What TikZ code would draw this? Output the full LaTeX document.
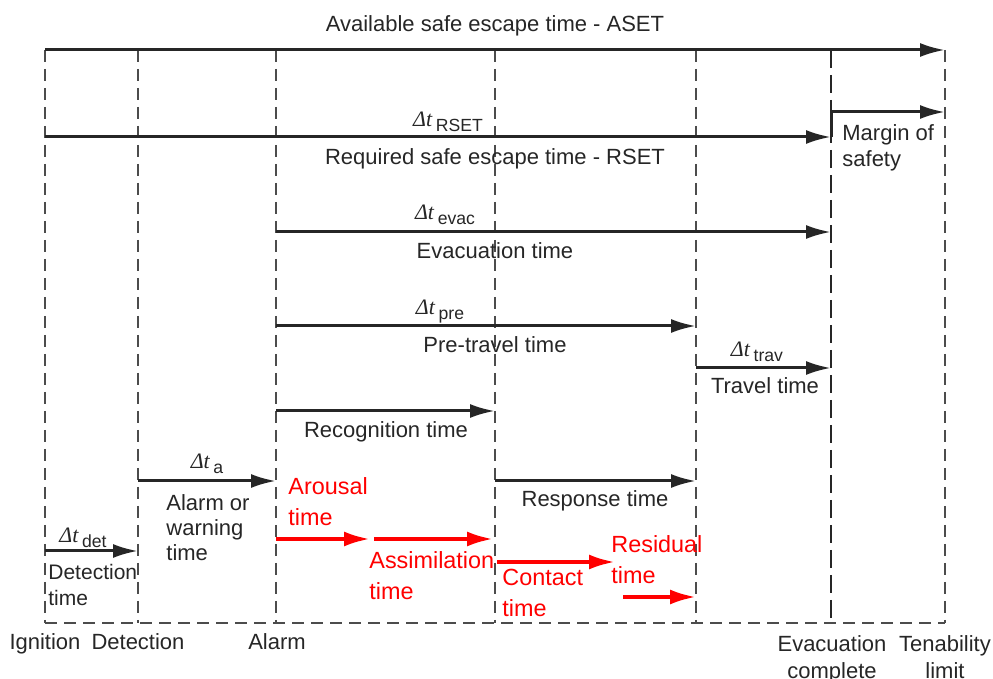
\documentclass[tikz,border=0pt]{standalone}
\usepackage{fontspec}
\setmainfont{Liberation Sans}
\newfontfamily\deltafont{Liberation Serif}
\usetikzlibrary{arrows.meta}
\newcommand{\dtlab}[1]{{\deltafont\itshape Δt}\,\raisebox{-0.35ex}{\fontsize{8.8}{10}\selectfont #1}}
\begin{document}
\begin{tikzpicture}[x=0.5pt,y=-0.5pt,font=\fontsize{11}{12.5}\selectfont,
 txt/.style={text=black!85,inner sep=0pt},
 redtxt/.style={text=red,inner sep=0pt,align=left,font=\fontsize{11.7}{15.5}\selectfont},
 grid/.style={dash pattern=on 6pt off 3.5pt,line width=0.6pt,black!70},
 gridthick/.style={dash pattern=on 9pt off 3.5pt,line width=1.4pt,black!85},
 arr/.style={-{Latex[length=12.5pt,width=7pt]},line width=1.5pt,black!85},
 redarr/.style={-{Latex[length=13pt,width=7.5pt]},line width=1.9pt,red}]
\useasboundingbox (0,0) rectangle (993,679);
\coordinate (ign) at (45,50);
\coordinate (det) at (138,50);
\coordinate (alm) at (276,50);
\coordinate (rec) at (495,50);
\coordinate (pre) at (696,50);
\coordinate (evc) at (831,50);
\coordinate (ten) at (945,50);
\coordinate (bot) at (0,623);
\coordinate (yrset) at (0,137);
\coordinate (ymarg) at (0,112);
\coordinate (yevac) at (0,232);
\coordinate (ypre) at (0,326);
\coordinate (ytrav) at (0,368);
\coordinate (yrec) at (0,411);
\coordinate (yresp) at (0,481);
\coordinate (ydet) at (0,551);
\coordinate (r1) at (370,539);
\coordinate (r2s) at (374,539);
\coordinate (r2) at (493,539);
\coordinate (r3s) at (497,562);
\coordinate (r3) at (615,562);
\coordinate (r4s) at (623,597);
\foreach \c in {ign,det,alm,rec,pre,ten}
  \draw[grid] (\c) -- (\c |- bot);
\draw[grid] (ign |- bot) -- (ten |- bot);
\draw[gridthick] (evc) -- (evc |- bot);
\draw[arr] (ign) -- (ten);
\draw[arr] (ign |- yrset) -- (evc |- yrset);
\draw[arr] (evc |- yrset) -- (evc |- ymarg) -- (ten |- ymarg);
\draw[arr] (alm |- yevac) -- (evc |- yevac);
\draw[arr] (alm |- ypre) -- (pre |- ypre);
\draw[arr] (pre |- ytrav) -- (evc |- ytrav);
\draw[arr] (alm |- yrec) -- (rec |- yrec);
\draw[arr] (rec |- yresp) -- (pre |- yresp);
\draw[arr] (det |- yresp) -- (alm |- yresp);
\draw[arr] (ign |- ydet) -- (det |- ydet);
\draw[redarr] (alm |- r1) -- (r1);
\draw[redarr] (r2s) -- (r2);
\draw[redarr] (r3s) -- (r3);
\draw[redarr] (r4s) -- (pre |- r4s);
\node[txt,anchor=base] (aset) at (495,32) {Available safe escape time - ASET};
\node[txt,anchor=base] (dtrset) at (448,127) {\dtlab{RSET}};
\node[txt,anchor=base] (rset) at (495,165) {Required safe escape time - RSET};
\node[txt,anchor=north west,align=left,font=\fontsize{11}{13}\selectfont] (margin) at (842,124) {Margin of\\safety};
\node[txt,anchor=base] (dtevac) at (445,220) {\dtlab{evac}};
\node[txt,anchor=base] (evac) at (495,259) {Evacuation time};
\node[txt,anchor=base] (dtpre) at (440,315) {\dtlab{pre}};
\node[txt,anchor=base] (pretrav) at (495,353) {Pre-travel time};
\node[txt,anchor=base] (dttrav) at (757,357) {\dtlab{trav}};
\node[txt,anchor=base] (trav) at (765,394) {Travel time};
\node[txt,anchor=base] (recog) at (386,438) {Recognition time};
\node[txt,anchor=base] (resp) at (595,507) {Response time};
\node[txt,anchor=base] (dta) at (207,469) {\dtlab{a}};
\node[txt,anchor=north west,align=left] (alarmw) at (166,494) {Alarm or\\warning\\time};
\node[txt,anchor=base] (dtdet) at (83,543) {\dtlab{det}};
\node[txt,anchor=north west,align=left,font=\fontsize{10.5}{12.8}\selectfont] (dettime) at (48,564) {Detection\\time};
\node[redtxt,anchor=north west] (arousal) at (288,477) {Arousal\\time};
\node[redtxt,anchor=north west] (assim) at (369,551) {Assimilation\\time};
\node[redtxt,anchor=north west] (contact) at (502,569) {Contact\\time};
\node[redtxt,anchor=north west] (resid) at (611,535) {Residual\\time};
\node[txt,anchor=base] (lign) at (45,650) {Ignition};
\node[txt,anchor=base] (ldet) at (138,650) {Detection};
\node[txt,anchor=base] (lalm) at (277,650) {Alarm};
\node[txt,anchor=north,align=center,font=\fontsize{11}{13.5}\selectfont] (levc) at (832,635) {Evacuation\\complete};
\node[txt,anchor=north,align=center,font=\fontsize{11}{13.5}\selectfont] (lten) at (945,635) {Tenability\\limit};
\end{tikzpicture}
\end{document}
